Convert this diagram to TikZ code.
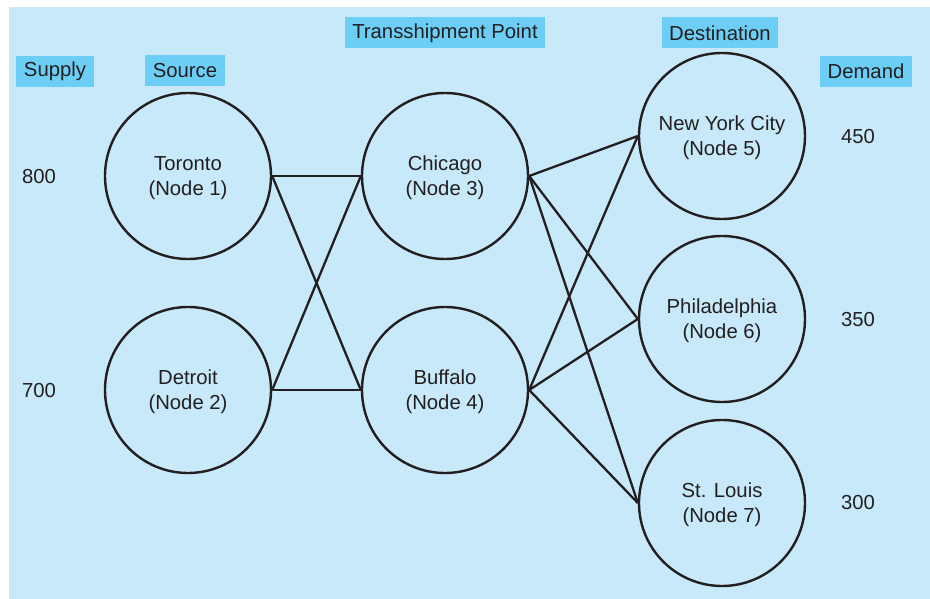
\documentclass[tikz,border=0pt]{standalone}
\usepackage{fontspec}
\setmainfont{Liberation Sans}
\definecolor{bgblue}{HTML}{C7E9F9}
\definecolor{boxblue}{HTML}{6DCEF5}
\definecolor{ink}{HTML}{231F20}
\begin{document}
\begin{tikzpicture}[x=1pt,y=-1pt,
  every node/.style={text=ink,font=\fontsize{20.3}{25}\selectfont},
  city/.style={circle,draw=ink,line width=2.4pt,minimum size=166pt,inner sep=0pt},
  ctext/.style={align=center,inner sep=0pt},
  hdr/.style={fill=boxblue,inner xsep=7.5pt,inner ysep=0pt,minimum height=31pt},
  link/.style={draw=ink,line width=2.3pt},
  num/.style={}]
\useasboundingbox (0,0) rectangle (930,599);
\fill[bgblue] (9,7) rectangle (930,599);

\node[hdr] (supply) at (55,71.5) {Supply};
\node[hdr] (source) at (185,70.5) {Source};
\node[hdr] (trans) at (445,33) {Transshipment Point};
\node[hdr] (dest) at (720,33) {Destination};
\node[hdr] (demand) at (866,71.5) {Demand};

\node[city] (n1) at (188,176) {};
\node[city] (n2) at (188,390) {};
\node[city] (n3) at (445,176) {};
\node[city] (n4) at (445,390) {};
\node[city] (n5) at (722,136) {};
\node[city] (n6) at (722,319) {};
\node[city] (n7) at (722,503) {};

\node[ctext] (t1) at (188,178) {Toronto\\(Node 1)};
\node[ctext] (t2) at (188,392) {Detroit\\(Node 2)};
\node[ctext] (t3) at (445,178) {Chicago\\(Node 3)};
\node[ctext] (t4) at (445,392) {Buffalo\\(Node 4)};
\node[ctext] (t5) at (722,138) {New York City\\(Node 5)};
\node[ctext] (t6) at (722,321) {Philadelphia\\(Node 6)};
\node[ctext] (t7) at (722,505) {St. Louis\\(Node 7)};

\node[num] (s1) at (39,177) {800};
\node[num] (s2) at (39,391) {700};
\node[num] (d5) at (858,137) {450};
\node[num] (d6) at (858,320) {350};
\node[num] (d7) at (858,503) {300};

\draw[link] (n1.east) -- (n3.west);
\draw[link] (n1.east) -- (n4.west);
\draw[link] (n2.east) -- (n3.west);
\draw[link] (n2.east) -- (n4.west);
\draw[link] (n3.east) -- (n5.west);
\draw[link] (n3.east) -- (n6.west);
\draw[link] (n3.east) -- (n7.west);
\draw[link] (n4.east) -- (n5.west);
\draw[link] (n4.east) -- (n6.west);
\draw[link] (n4.east) -- (n7.west);
\end{tikzpicture}
\end{document}
